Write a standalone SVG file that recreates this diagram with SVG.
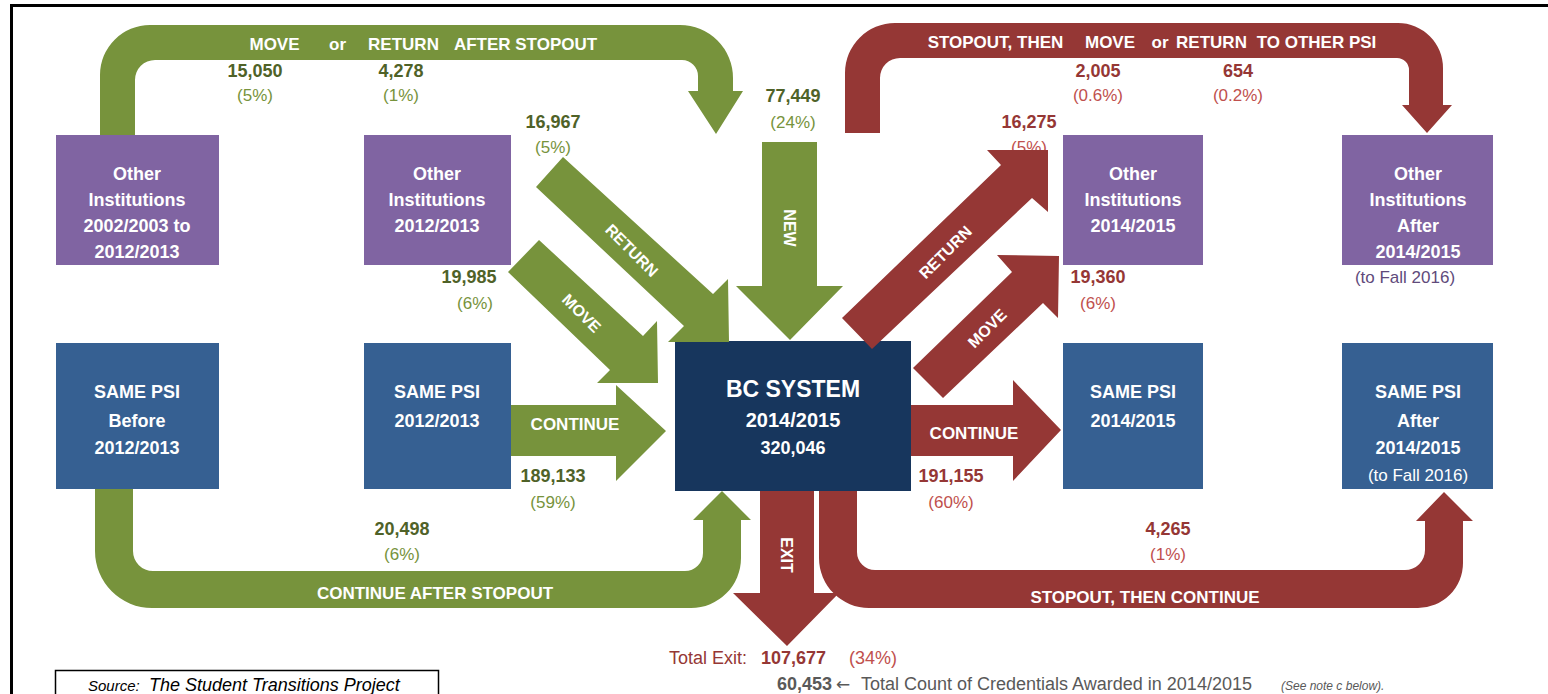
<svg xmlns="http://www.w3.org/2000/svg" width="1548" height="694" viewBox="0 0 1548 694">
<style>
text{font-family:"Liberation Sans",Arial,sans-serif}
.nt{fill:#fff;font-weight:bold;font-size:18px;text-anchor:middle}
.nr{fill:#fff;font-size:17px;text-anchor:middle}
.al{fill:#fff;font-weight:bold;font-size:17px;text-anchor:middle}
.ar{fill:#fff;font-weight:bold;font-size:16px;text-anchor:middle}
.gn{fill:#4f6228;font-weight:bold;font-size:18px;text-anchor:middle}
.gp{fill:#77933c;font-size:17px;text-anchor:middle}
.rn{fill:#953735;font-weight:bold;font-size:18px;text-anchor:middle}
.rp{fill:#c0504d;font-size:17px;text-anchor:middle}
.purple{fill:#8064a2}
.blue{fill:#366092}
.navy{fill:#17365d}
.g{fill:#77933c}
.r{fill:#953735}
</style>
<rect width="1548" height="694" fill="#fff"/>
<!-- frame -->
<path d="M11.5,694 V5.5 H1548" fill="none" stroke="#000" stroke-width="3"/>

<!-- flow labels (numbers) -->
<g id="labels">
<text class="gn" x="255" y="77">15,050</text><text class="gp" x="255" y="101">(5%)</text>
<text class="gn" x="401" y="77">4,278</text><text class="gp" x="401" y="101">(1%)</text>
<text class="gn" x="553" y="128">16,967</text><text class="gp" x="553" y="153">(5%)</text>
<text class="gn" x="793" y="102">77,449</text><text class="gp" x="793" y="128">(24%)</text>
<text class="gn" x="469" y="283">19,985</text><text class="gp" x="475" y="309">(6%)</text>
<text class="gn" x="553" y="482">189,133</text><text class="gp" x="553" y="508">(59%)</text>
<text class="gn" x="402" y="535">20,498</text><text class="gp" x="402" y="560">(6%)</text>
<text class="rn" x="1098" y="77">2,005</text><text class="rp" x="1098" y="101">(0.6%)</text>
<text class="rn" x="1238" y="77">654</text><text class="rp" x="1238" y="101">(0.2%)</text>
<text class="rn" x="1029" y="128">16,275</text><text class="rp" x="1029" y="153">(5%)</text>
<text class="rn" x="1098" y="283">19,360</text><text class="rp" x="1098" y="309">(6%)</text>
<text class="rn" x="951" y="482">191,155</text><text class="rp" x="951" y="508">(60%)</text>
<text class="rn" x="1168" y="535">4,265</text><text class="rp" x="1168" y="560">(1%)</text>
<text x="1405" y="283" font-size="17" fill="#604a7b" text-anchor="middle">(to Fall 2016)</text>
<text x="747" y="664" font-size="18" fill="#953735" text-anchor="end">Total Exit:</text>
<text x="761" y="664" font-size="18" fill="#953735" font-weight="bold">107,677</text>
<text x="849" y="664" font-size="18" fill="#c0504d">(34%)</text>
<text x="777" y="690" font-size="18" fill="#595959" font-weight="bold">60,453</text>
<text x="836" y="690" font-size="18" fill="#595959"><tspan font-family="DejaVu Sans, sans-serif" font-size="17">←</tspan><tspan x="861">Total Count of Credentials Awarded in 2014/2015</tspan></text>
<text x="1281" y="690" font-size="12" fill="#595959" font-style="italic">(See note c below).</text>
</g>

<!-- nodes -->
<g id="n-other-0203">
<rect class="purple" x="56" y="135" width="163" height="130"/>
<text class="nt" x="137" y="180">Other</text><text class="nt" x="137" y="206">Institutions</text>
<text class="nt" x="137" y="232">2002/2003 to</text><text class="nt" x="137" y="258">2012/2013</text>
</g>
<g id="n-other-1213">
<rect class="purple" x="364" y="135" width="147" height="130"/>
<text class="nt" x="437" y="180">Other</text><text class="nt" x="437" y="206">Institutions</text>
<text class="nt" x="437" y="232">2012/2013</text>
</g>
<g id="n-other-1415">
<rect class="purple" x="1063" y="135" width="140" height="130"/>
<text class="nt" x="1133" y="180">Other</text><text class="nt" x="1133" y="206">Institutions</text>
<text class="nt" x="1133" y="232">2014/2015</text>
</g>
<g id="n-other-after">
<rect class="purple" x="1342" y="135" width="151" height="130"/>
<text class="nt" x="1418" y="180">Other</text><text class="nt" x="1418" y="206">Institutions</text>
<text class="nt" x="1418" y="232">After</text><text class="nt" x="1418" y="258">2014/2015</text>
</g>
<g id="n-same-before">
<rect class="blue" x="56" y="343" width="163" height="146"/>
<text class="nt" x="137" y="398">SAME PSI</text><text class="nt" x="137" y="427">Before</text>
<text class="nt" x="137" y="454">2012/2013</text>
</g>
<g id="n-same-1213">
<rect class="blue" x="364" y="343" width="147" height="146"/>
<text class="nt" x="437" y="398">SAME PSI</text><text class="nt" x="437" y="427">2012/2013</text>
</g>
<g id="n-same-1415">
<rect class="blue" x="1063" y="343" width="140" height="146"/>
<text class="nt" x="1133" y="398">SAME PSI</text><text class="nt" x="1133" y="427">2014/2015</text>
</g>
<g id="n-same-after">
<rect class="blue" x="1342" y="343" width="151" height="146"/>
<text class="nt" x="1418" y="398">SAME PSI</text><text class="nt" x="1418" y="427">After</text>
<text class="nt" x="1418" y="454">2014/2015</text><text class="nr" x="1418" y="481">(to Fall 2016)</text>
</g>
<g id="n-bc">
<rect class="navy" x="675" y="341" width="236" height="150"/>
<text x="793" y="397" font-size="23" font-weight="bold" fill="#fff" text-anchor="middle">BC SYSTEM</text>
<text x="793" y="427" font-size="20" font-weight="bold" fill="#fff" text-anchor="middle">2014/2015</text>
<text x="793" y="454" font-size="18" font-weight="bold" fill="#fff" text-anchor="middle">320,046</text>
</g>

<!-- connectors -->
<g id="connectors">
<path class="g" d="M100,135 V75 A50,50 0 0 1 150,25 H680 A53,53 0 0 1 733,78 V91 H743 L716,134 L688,91 H698 V76 A16,16 0 0 0 682,60 H155 A20,20 0 0 0 135,80 V135 Z"/>
<path class="g" d="M95,489 V551 A57,57 0 0 0 152,608 H691 A50,50 0 0 0 741,558 V520 H751 L722,491 L693,520 H703 V553 A18,18 0 0 1 685,571 H153 A20,20 0 0 1 133,551 V489 Z"/>
<polygon class="g" points="536,187 563,157 713,294 728,279 729,342 668,342 684,326"/>
<polygon class="g" points="508,272 539,240 643,336 657,321 658,383 597,383 610,370"/>
<path class="g" d="M762,142 V286 H736 L790,340 L843,286 H817 V142 Z"/>
<path class="g" d="M511,405 H616 V385 L666,431 L616,481 V456 H511 Z"/>

<path class="r" d="M845,133 V73 A50,50 0 0 1 895,23 H1398 A45,45 0 0 1 1443,68 V105 H1452 L1427,133 L1402,105 H1409 V70 A12,12 0 0 0 1397,58 H900 A20,20 0 0 0 880,78 V133 Z"/>
<path class="r" d="M819,491 V558 A50,50 0 0 0 869,608 H1418 A45,45 0 0 0 1463,563 V521 H1473 L1444,492 L1416,521 H1425 V550 A20,20 0 0 1 1405,570 H875 A18,18 0 0 1 857,552 V491 Z"/>
<path class="r" d="M760,491 V593 H733 L787,646 L839,593 H814 V491 Z"/>
<polygon class="r" points="842,318 1001,165 987,150 1048,150 1048,212 1032,198 872,349"/>
<polygon class="r" points="913,368 1012,272 997,255 1059,256 1058,318 1043,303 943,398"/>
<path class="r" d="M911,405 H1013 V380 L1061,430 L1013,481 V456 H911 Z"/>

<text class="al" x="274.5" y="50">MOVE</text><text class="al" x="337.5" y="50">or</text>
<text class="al" x="403.5" y="50">RETURN</text><text class="al" x="525.5" y="50">AFTER STOPOUT</text>
<text class="al" x="995.5" y="48">STOPOUT, THEN</text><text class="al" x="1110" y="48">MOVE</text>
<text class="al" x="1160" y="48">or</text><text class="al" x="1211.5" y="48">RETURN</text>
<text class="al" x="1316.5" y="48">TO OTHER PSI</text>
<text class="al" x="575" y="430">CONTINUE</text>
<text class="al" x="974" y="439">CONTINUE</text>
<text class="al" x="435" y="599">CONTINUE AFTER STOPOUT</text>
<text class="al" x="1145" y="603" font-size="16.5">STOPOUT, THEN CONTINUE</text>
<text class="ar" transform="translate(790,228) rotate(90)" dy="6">NEW</text>
<text class="ar" transform="translate(787,555) rotate(90)" dy="6">EXIT</text>
<text class="ar" transform="translate(632,250) rotate(45)" dy="6">RETURN</text>
<text class="ar" transform="translate(582,313) rotate(45)" dy="6">MOVE</text>
<text class="ar" transform="translate(945,252) rotate(-45)" dy="6">RETURN</text>
<text class="ar" transform="translate(987,328) rotate(-45)" dy="6">MOVE</text>
</g>

<!-- source box -->
<g id="source">
<rect x="55.5" y="670.5" width="383" height="40" fill="#fff" stroke="#000" stroke-width="1.5"/>
<text x="88" y="691" font-size="15" font-style="italic" fill="#000">Source:<tspan x="149" font-size="18">The Student Transitions Project</tspan></text>
</g>
</svg>
